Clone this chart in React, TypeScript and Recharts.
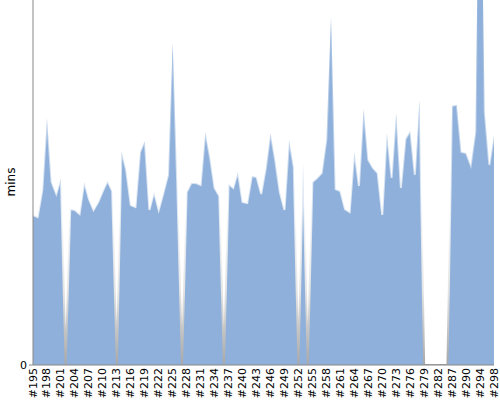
import React from 'react';
import { AreaChart, Area, XAxis, YAxis } from 'recharts';

const builds: string[] = [
  '#195','#196','#197','#198','#199','#200','#201','#202','#203','#204',
  '#205','#206','#207','#208','#209','#210','#211','#212','#213','#214',
  '#215','#216','#217','#218','#219','#220','#221','#222','#223','#224',
  '#225','#226','#227','#228','#229','#230','#231','#232','#233','#234',
  '#235','#236','#237','#238','#239','#240','#241','#242','#243','#244',
  '#245','#246','#247','#248','#249','#250','#251','#252','#253','#254',
  '#255','#256','#257','#258','#259','#260','#261','#262','#263','#264',
  '#265','#266','#267','#268','#269','#270','#271','#272','#273','#274',
  '#275','#276','#277','#278','#279','#280','#281','#282','#284','#285',
  '#287','#288','#289','#290','#291','#293','#294','#296','#297','#298',
];

const durations: number[] = [
  15.0, 14.8, 17.5, 24.7, 18.3, 17.1, 18.7, 0, 15.6, 15.5,
  15.1, 18.3, 16.6, 15.5, 16.3, 17.4, 18.4, 17.4, 0, 21.4,
  19.5, 16.0, 15.8, 21.3, 22.4, 15.5, 17.3, 15.5, 17.2, 19.0,
  32.2, 17.8, 0, 17.3, 18.2, 18.2, 18.0, 23.3, 20.8, 17.7,
  16.9, 0, 18.1, 17.7, 19.3, 16.3, 16.2, 18.9, 18.8, 17.1,
  19.7, 23.2, 20.5, 17.3, 15.5, 22.5, 19.8, 0, 20.2, 0,
  18.3, 18.7, 19.2, 22.5, 34.7, 17.6, 17.4, 15.6, 15.3, 21.3,
  17.9, 25.6, 20.5, 19.7, 19.2, 15.0, 23.2, 18.7, 25.2, 17.7,
  22.6, 23.4, 19.0, 26.5, 0, 0, 0, 0, 0, 0,
  25.9, 26.0, 21.3, 21.2, 20.0, 23.3, 56.5, 25.3, 20.0, 23.0,
];

const yTicks: number[] = [0];

const data = builds.map((b, i) => ({ build: b, mins: durations[i] }));

const FONT = 'DejaVu Sans, sans-serif';

const RotTick = (props: any) => {
  const { x, y, payload } = props;
  return (
    <text
      x={x}
      y={y}
      transform={`rotate(-90 ${x} ${y})`}
      textAnchor="end"
      dominantBaseline="central"
      fontSize={11}
      fontFamily={FONT}
      fill="#000"
    >
      {payload.value}
    </text>
  );
};

const YLabel = () => (
  <text
    x={11}
    y={182}
    transform="rotate(-90 11 182)"
    textAnchor="middle"
    dominantBaseline="central"
    fontSize={12}
    fontFamily={FONT}
    fill="#000"
  >
    mins
  </text>
);

export default function App() {
  return (
    <div style={{ position: 'absolute', left: 0, top: 0, background: '#fff' }}>
      <AreaChart
        width={500}
        height={400}
        data={data}
        margin={{ top: 0, right: 6, bottom: 0, left: 0 }}
      >
        <defs>
          <linearGradient id="edgeGrad" x1="0" y1="0" x2="0" y2="365" gradientUnits="userSpaceOnUse">
            <stop offset="0" stopColor="#ffffff" stopOpacity={0} />
            <stop offset="0.55" stopColor="#ffffff" stopOpacity={0.7} />
            <stop offset="0.8" stopColor="#e4e4e4" stopOpacity={1} />
            <stop offset="1" stopColor="#a8a8a8" stopOpacity={1} />
          </linearGradient>
        </defs>
        <XAxis
          dataKey="build"
          interval={2}
          height={35}
          tickLine={false}
          tickSize={1}
          tickMargin={2}
          axisLine={{ stroke: '#888' }}
          tick={<RotTick />}
        />
        <YAxis
          width={33}
          domain={[0, 36.5]}
          ticks={yTicks}
          allowDataOverflow
          tickSize={4}
          tickMargin={2}
          axisLine={{ stroke: '#888' }}
          tickLine={{ stroke: '#888' }}
          tick={{ fontSize: 11, fontFamily: FONT, fill: '#000' }}
          label={{ content: <YLabel /> }}
        />
        <Area
          type="linear"
          dataKey="mins"
          fill="#8eb0da"
          fillOpacity={1}
          stroke="url(#edgeGrad)"
          strokeWidth={2}
          isAnimationActive={false}
          dot={false}
          activeDot={false}
        />
      </AreaChart>
    </div>
  );
}
